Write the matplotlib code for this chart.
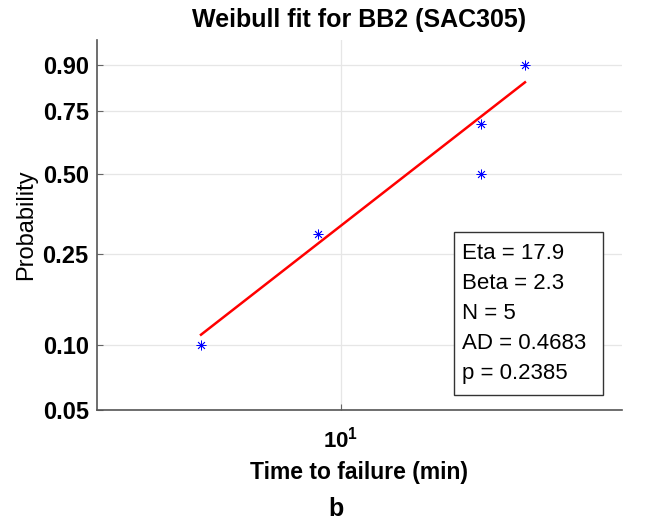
import numpy as np
import matplotlib
matplotlib.use("Agg")
import matplotlib.pyplot as plt
from matplotlib.patches import Rectangle

plt.rcParams['font.family'] = ['Liberation Sans', 'DejaVu Sans']
plt.rcParams['mathtext.fontset'] = 'custom'
plt.rcParams['mathtext.rm'] = 'Liberation Sans'
plt.rcParams['mathtext.bf'] = 'Liberation Sans:bold'

# failure times (min) and plotting positions (i-0.5)/n
times = [5.93, 9.18, 16.9, 16.9, 19.9]
probs = [0.10, 0.30, 0.50, 0.70, 0.90]

# fitted line as drawn (endpoints)
fit_t = [5.93, 19.9]
fit_p = [0.111, 0.851]

yticks = [0.05, 0.10, 0.25, 0.50, 0.75, 0.90]
stats = ["Eta = 17.9", "Beta = 2.3", "N = 5", "AD = 0.4683", "p = 0.2385"]


def wb_fwd(p):
    p = np.clip(np.asarray(p, dtype=float), 1e-9, 1 - 1e-9)
    return np.log(-np.log(1 - p))


def wb_inv(w):
    return 1 - np.exp(-np.exp(np.asarray(w, dtype=float)))


fig = plt.figure(figsize=(6.62, 5.24), dpi=100)
ax = fig.add_axes([0.1465, 0.2176, 0.9396 - 0.1465, 0.9237 - 0.2176])

ax.set_xscale('log')
ax.set_yscale('function', functions=(wb_fwd, wb_inv))

ax.plot(fit_t, fit_p, color='red', lw=1.8, zorder=3)
ax.plot(times, probs, linestyle='none', marker=(8, 2, 0), markersize=7,
        markeredgewidth=0.6, color='blue', zorder=4)

ax.set_xlim(4.02, 28.6)
ax.set_ylim(0.05, 0.952)

ax.set_yticks(yticks)
ax.set_yticklabels([f"{v:.2f}" for v in yticks], fontsize=17, fontweight='bold')
ax.set_xticks([10])
ax.set_xticklabels([r"$\mathbf{10^{1}}$"], fontsize=16)
ax.xaxis.set_minor_locator(matplotlib.ticker.NullLocator())
ax.yaxis.set_minor_locator(matplotlib.ticker.NullLocator())

ax.grid(True, color='#e6e6e6', lw=0.9)
ax.set_axisbelow(True)
for side in ['top', 'right']:
    ax.spines[side].set_visible(False)
for side in ['left', 'bottom']:
    ax.spines[side].set_color('#555555')
    ax.spines[side].set_linewidth(1.2)
ax.tick_params(direction='in', length=4, color='#666666', pad=6)
ax.tick_params(axis='x', pad=12)

ax.set_title("Weibull fit for BB2 (SAC305)", fontsize=18, fontweight='bold', pad=9)
ax.set_ylabel("Probability", fontsize=17, labelpad=4)
ax.set_xlabel("Time to failure (min)", fontsize=16.5, fontweight='bold', labelpad=6)

# stats box
ax.add_patch(Rectangle((0.680, 0.0405), 0.284, 0.4405, transform=ax.transAxes,
                       fc='white', ec='#333333', lw=1.0, zorder=5))
line_y = [0.408, 0.327, 0.246, 0.165, 0.084]
for s, yy in zip(stats, line_y):
    ax.text(0.695, yy, s, transform=ax.transAxes, fontsize=16,
            va='baseline', ha='left', zorder=6)

fig.text(0.507, 0.028, "b", fontsize=18, fontweight='bold', ha='center', va='center')

fig.savefig("out.png", dpi=100)
